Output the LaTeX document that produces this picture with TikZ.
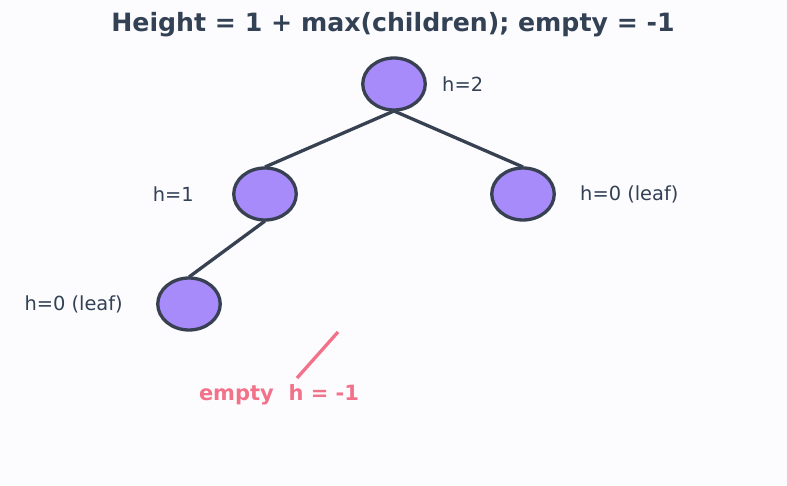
\documentclass[tikz,border=0pt]{standalone}
\usepackage{fontspec}
\setmainfont{DejaVu Sans}
\usetikzlibrary{shapes.geometric}
\definecolor{bgc}{HTML}{FCFCFE}
\definecolor{ink}{HTML}{334155}
\definecolor{nodefill}{HTML}{A78BFA}
\definecolor{nodeline}{HTML}{374151}
\definecolor{redc}{HTML}{F2728A}
\begin{document}
\begin{tikzpicture}[x=1pt,y=-1pt,
  tnode/.style={ellipse,draw=nodeline,fill=nodefill,line width=3.3pt,minimum width=62.5pt,minimum height=52pt,inner sep=0pt},
  edge/.style={draw=nodeline,line width=3.3pt},
  lbl/.style={text=ink,font=\fontsize{19.4}{22}\selectfont,inner sep=0pt}]
\fill[bgc] (0,0) rectangle (787,486);
\useasboundingbox (0,0) rectangle (787,486);
\node[text=ink,font=\bfseries\fontsize{25.2}{28}\selectfont,inner sep=0pt] (title) at (393,25) {Height = 1 + max(children); empty = -1};
\coordinate (r) at (394,84);
\coordinate (a) at (265,194);
\coordinate (b) at (523,194);
\coordinate (c) at (189,304);
\draw[edge] ([yshift=-27pt]r) -- ([yshift=27pt]a);
\draw[edge] ([yshift=-27pt]r) -- ([yshift=27pt]b);
\draw[edge] ([yshift=-27pt]a) -- ([yshift=27pt]c);
\node[tnode] (nr) at (r) {};
\node[tnode] (na) at (a) {};
\node[tnode] (nb) at (b) {};
\node[tnode] (nc) at (c) {};
\node[lbl,anchor=west] (lr) at (442,84) {h=2};
\node[lbl,anchor=east] (la) at (194,194) {h=1};
\node[lbl,anchor=west] (lb) at (580,194) {h=0 (leaf)};
\node[lbl,anchor=east] (lc) at (123,304) {h=0 (leaf)};
\coordinate (e1) at (338,332);
\coordinate (e2) at (297,378);
\draw[redc,line width=3.3pt] (e1) -- (e2);
\node[text=redc,font=\bfseries\fontsize{21}{24}\selectfont,inner sep=0pt] (emp) at (279,395) {empty\ \ h = -1};
\end{tikzpicture}
\end{document}
